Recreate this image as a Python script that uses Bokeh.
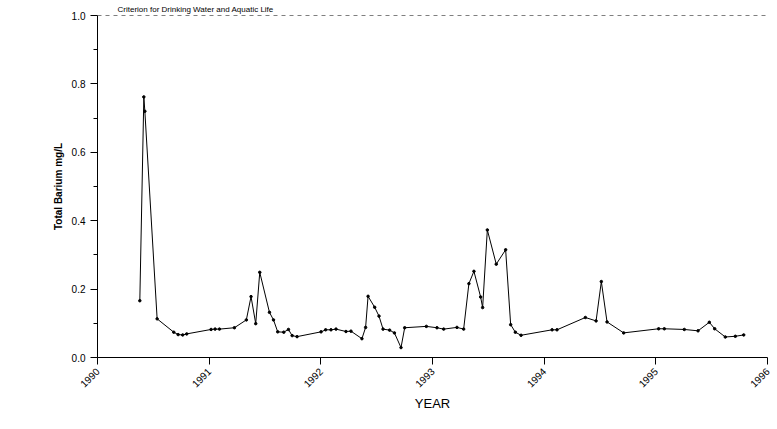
from bokeh.plotting import figure
from bokeh.embed import file_html
from bokeh.resources import INLINE
from bokeh.models import Range1d, FixedTicker, Span, CustomJSTickFormatter

years = [1990.379,1990.415,1990.424,1990.534,1990.683,1990.722,1990.763,1990.799,1991.017,1991.053,
         1991.092,1991.226,1991.333,1991.375,1991.417,1991.453,1991.540,1991.576,1991.614,1991.668,
         1991.710,1991.743,1991.787,1992.002,1992.043,1992.091,1992.136,1992.225,1992.270,1992.368,
         1992.401,1992.423,1992.482,1992.521,1992.557,1992.616,1992.659,1992.718,1992.751,1992.945,
         1993.040,1993.100,1993.219,1993.279,1993.326,1993.371,1993.431,1993.449,1993.491,1993.571,
         1993.655,1993.700,1993.742,1993.793,1994.071,1994.115,1994.369,1994.465,1994.512,1994.563,
         1994.712,1995.025,1995.076,1995.255,1995.378,1995.479,1995.527,1995.622,1995.712,1995.787]
barium = [0.166,0.762,0.72,0.113,0.074,0.067,0.066,0.069,0.082,0.083,
          0.083,0.087,0.110,0.178,0.099,0.249,0.132,0.110,0.075,0.074,
          0.082,0.064,0.061,0.075,0.081,0.081,0.083,0.076,0.077,0.055,
          0.088,0.179,0.147,0.121,0.083,0.080,0.072,0.029,0.087,0.091,
          0.087,0.083,0.088,0.083,0.216,0.252,0.177,0.146,0.373,0.273,
          0.315,0.096,0.074,0.065,0.081,0.081,0.117,0.107,0.222,0.104,
          0.072,0.084,0.084,0.082,0.078,0.103,0.084,0.060,0.062,0.066]
x_ticks = [1990,1991,1992,1993,1994,1995,1996]
y_ticks = [0.0,0.2,0.4,0.6,0.8,1.0]
criterion = 1.0

p = figure(width=777, height=413, output_backend="svg", toolbar_location=None,
           x_range=Range1d(1990, 1996), y_range=Range1d(0, 1.0),
           min_border_left=97, min_border_top=0, min_border_bottom=55, min_border_right=10,
           title="Criterion for Drinking Water and Aquatic Life")
p.title.text_font = "Liberation Sans"
p.title.text_font_size = "8px"
p.title.text_font_style = "normal"
p.title.text_color = "black"
p.title.offset = 20
p.title.standoff = 4
p.outline_line_color = None
p.grid.visible = False

p.line(years, barium, line_color="black", line_width=1)
p.scatter(years, barium, size=2.5, color="black")

p.add_layout(Span(location=criterion, dimension="width", line_color="black",
                  line_dash="4 4", line_width=1))

p.xaxis.ticker = FixedTicker(ticks=x_ticks)
p.xaxis.major_label_orientation = 0.785
p.xaxis.axis_label = "YEAR"
p.xaxis.axis_label_text_font_style = "normal"
p.xaxis.axis_label_text_font_size = "13px"
p.xaxis.axis_label_text_font = "Liberation Sans"
p.xaxis.axis_label_standoff = 2

p.yaxis.ticker = FixedTicker(ticks=y_ticks, minor_ticks=[0.1,0.3,0.5,0.7,0.9])
p.yaxis.axis_label = "Total Barium mg/L"
p.yaxis.axis_label_text_font_style = "bold"
p.yaxis.axis_label_text_font_size = "10px"
p.yaxis.axis_label_text_font = "Liberation Sans"
p.yaxis.minor_tick_in = 0
p.yaxis.minor_tick_out = 4
p.yaxis.formatter = CustomJSTickFormatter(code="return tick.toFixed(1);")

for ax in (p.xaxis, p.yaxis):
    ax.major_label_text_font = "Liberation Sans"
    ax.major_label_text_font_size = "10px"
    ax.major_label_text_color = "black"
    ax.axis_label_text_color = "black"
    ax.axis_line_color = "black"
    ax.major_tick_line_color = "black"
    ax.minor_tick_line_color = "black"
    ax.major_tick_in = 0
    ax.major_tick_out = 7
p.xaxis.minor_tick_line_color = None

open("out.html", "w").write(file_html(p, INLINE))
